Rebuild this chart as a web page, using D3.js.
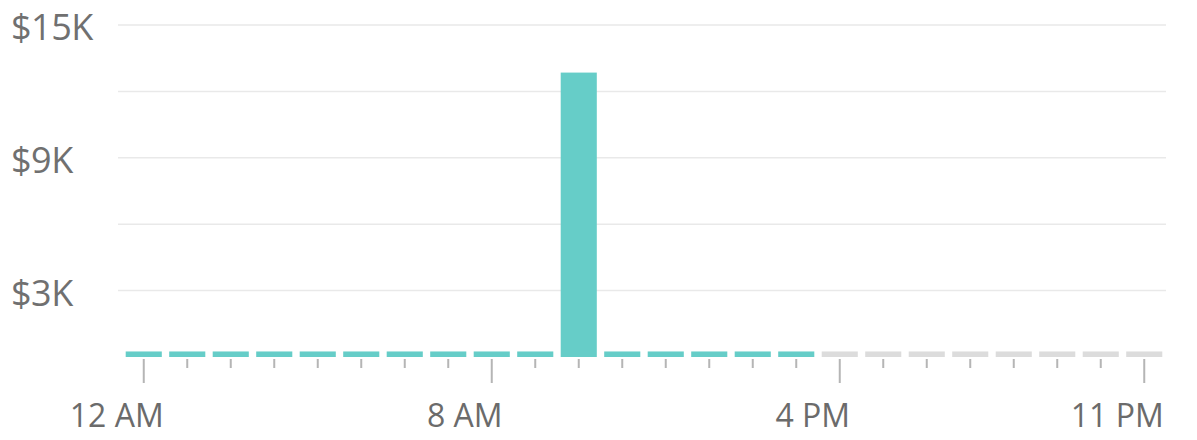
<!DOCTYPE html>
<html>
<head>
<meta charset="utf-8">
<script src="https://cdn.jsdelivr.net/npm/d3@7"></script>
<style>
  html, body { margin: 0; padding: 0; background: #fff; }
  svg { display: block; }
  text { font-family: "Open Sans", "Noto Sans", sans-serif; }
</style>
</head>
<body>
<svg id="chart" width="1197" height="440"></svg>
<script>
// ---- data ----
const hours = ["12 AM","1 AM","2 AM","3 AM","4 AM","5 AM","6 AM","7 AM","8 AM","9 AM","10 AM","11 AM",
               "12 PM","1 PM","2 PM","3 PM","4 PM","5 PM","6 PM","7 PM","8 PM","9 PM","10 PM","11 PM"];
const sales = [250,250,250,250,250,250,250,250,250,250,12850,250,
               250,250,250,250,250,250,250,250,250,250,250,250];
const isPast = [true,true,true,true,true,true,true,true,true,true,true,true,
                true,true,true,true,false,false,false,false,false,false,false,false];
const shownHourLabels = ["12 AM","8 AM","4 PM","11 PM"];
const yTicks = [0,3000,6000,9000,12000,15000];
const yTickLabels = ["","$3K","","$9K","","$15K"];

// ---- layout ----
const svg = d3.select("#chart");
const x = d3.scaleBand().domain(hours).range([122, 1166]).paddingInner(0.17).paddingOuter(0.085);
const y = d3.scaleLinear().domain([0, 15000]).range([357, 25]);

// gridlines
svg.append("g").selectAll("line").data(yTicks.filter(d => d > 0)).join("line")
  .attr("x1", 118).attr("x2", 1166)
  .attr("y1", d => y(d)).attr("y2", d => y(d))
  .attr("stroke", "#e9e9e9").attr("stroke-width", 1.5);

// y labels
svg.append("g").selectAll("text").data(yTicks).join("text")
  .attr("x", 11).attr("y", d => y(d))
  .attr("dy", "0.42em")
  .attr("fill", "#707070").attr("font-size", 36)
  .attr("letter-spacing", -0.5)
  .text((d, i) => yTickLabels[i]);

// x axis
const xAxis = d3.axisBottom(x)
  .tickSize(0)
  .tickFormat(d => shownHourLabels.includes(d) ? d : "");
const gx = svg.append("g").attr("transform", `translate(0,${y(0)})`).call(xAxis);
gx.select(".domain").remove();
gx.selectAll(".tick line")
  .attr("y1", 2)
  .attr("y2", d => shownHourLabels.includes(d) ? 26 : 11)
  .attr("stroke", "#b5b5b5").attr("stroke-width", 2);
gx.selectAll(".tick text")
  .attr("y", 70).attr("dy", 0)
  .attr("dx", -27)
  .attr("fill", "#6b6b6b").attr("font-size", 32)
  .attr("font-family", "'Open Sans', 'Noto Sans', sans-serif");

// bars
svg.append("g").selectAll("rect").data(hours).join("rect")
  .attr("x", d => x(d))
  .attr("width", x.bandwidth())
  .attr("y", (d, i) => y(sales[i]))
  .attr("height", (d, i) => y(0) - y(sales[i]))
  .attr("fill", (d, i) => isPast[i] ? "#66cdc8" : "#dcdcdc");
</script>
</body>
</html>
